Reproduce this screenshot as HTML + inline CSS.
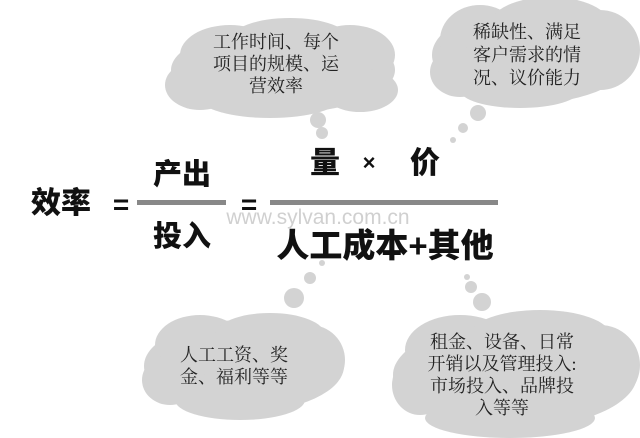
<!DOCTYPE html>
<html><head><meta charset="utf-8"><style>
html,body{margin:0;padding:0;background:#fff;}
svg{display:block}
.s{font-family:"Liberation Serif","Noto Serif CJK SC",serif;font-size:18px;fill:#222;text-anchor:middle}
.b{font-family:"Liberation Sans","Noto Sans CJK SC",sans-serif;font-weight:900;fill:#111;text-anchor:middle}
</style></head><body>
<svg width="640" height="438" viewBox="0 0 640 438" xmlns="http://www.w3.org/2000/svg">
<g fill="#d3d3d3">
<ellipse cx="283" cy="70" rx="112" ry="43"/>
<ellipse cx="230" cy="55" rx="50" ry="30"/>
<ellipse cx="290" cy="40" rx="60" ry="22"/>
<ellipse cx="350" cy="55" rx="45" ry="30"/>
<ellipse cx="200" cy="85" rx="35" ry="25"/>
<ellipse cx="270" cy="98" rx="70" ry="20"/>
<ellipse cx="360" cy="90" rx="38" ry="22"/>
<circle cx="318" cy="120" r="8"/><circle cx="322" cy="133" r="6"/>
<ellipse cx="532" cy="55" rx="100" ry="48"/>
<ellipse cx="480" cy="40" rx="40" ry="35"/>
<ellipse cx="550" cy="25" rx="60" ry="28"/>
<ellipse cx="600" cy="50" rx="40" ry="40"/>
<ellipse cx="520" cy="90" rx="60" ry="18"/>
<ellipse cx="460" cy="72" rx="30" ry="25"/>
<circle cx="478" cy="113" r="8"/><circle cx="463" cy="128" r="5"/><circle cx="453" cy="140" r="3"/>
<ellipse cx="244" cy="366" rx="100" ry="46"/>
<ellipse cx="200" cy="345" rx="45" ry="30"/>
<ellipse cx="270" cy="335" rx="55" ry="22"/>
<ellipse cx="310" cy="360" rx="35" ry="35"/>
<ellipse cx="240" cy="400" rx="65" ry="20"/>
<ellipse cx="170" cy="380" rx="28" ry="25"/>
<circle cx="294" cy="298" r="10"/><circle cx="310" cy="278" r="6"/><circle cx="322" cy="263" r="3"/>
<ellipse cx="515" cy="375" rx="122" ry="53"/>
<ellipse cx="460" cy="350" rx="55" ry="35"/>
<ellipse cx="540" cy="335" rx="70" ry="25"/>
<ellipse cx="600" cy="365" rx="40" ry="40"/>
<ellipse cx="510" cy="418" rx="85" ry="20"/>
<ellipse cx="420" cy="385" rx="28" ry="30"/>
<circle cx="482" cy="302" r="9"/><circle cx="471" cy="287" r="6"/><circle cx="467" cy="277" r="3"/>
</g>
<text class="s" x="276" y="48">工作时间、每个</text>
<text class="s" x="276" y="70">项目的规模、运</text>
<text class="s" x="276" y="92">营效率</text>
<text class="s" x="527" y="38">稀缺性、满足</text>
<text class="s" x="527" y="61">客户需求的情</text>
<text class="s" x="527" y="84">况、议价能力</text>
<text class="s" x="234" y="361">人工工资、奖</text>
<text class="s" x="234" y="383">金、福利等等</text>
<text class="s" x="502" y="348">租金、设备、日常</text>
<text class="s" x="502" y="370">开销以及管理投入:</text>
<text class="s" x="502" y="392">市场投入、品牌投</text>
<text class="s" x="502" y="414">入等等</text>
<text x="318" y="224" font-family="Liberation Sans,sans-serif" font-size="21" fill="#d0d0d0" text-anchor="middle">www.sylvan.com.cn</text>
<text class="b" x="61" y="213" font-size="30">效率</text>
<text class="b" x="121" y="214" font-size="28">=</text>
<rect x="137" y="200" width="89" height="5" fill="#888"/>
<text class="b" x="182" y="184" font-size="29">产出</text>
<text class="b" x="182" y="246" font-size="29">投入</text>
<text class="b" x="249" y="214" font-size="28">=</text>
<rect x="270" y="200" width="228" height="5" fill="#888"/>
<text class="b" x="325" y="173" font-size="30">量</text>
<text class="b" x="369" y="170" font-size="22">×</text>
<text class="b" x="425" y="173" font-size="30">价</text>
<text class="b" x="385" y="257" font-size="33">人工成本+其他</text>
</svg>
</body></html>
